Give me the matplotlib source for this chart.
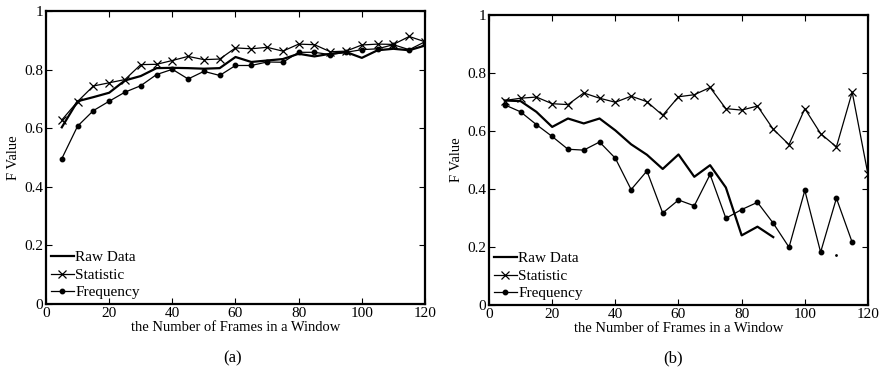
import numpy as np
import matplotlib
matplotlib.use("Agg")
import matplotlib.pyplot as plt

# window sizes (frames)
frames = [5, 10, 15, 20, 25, 30, 35, 40, 45, 50, 55, 60,
          65, 70, 75, 80, 85, 90, 95, 100, 105, 110, 115, 120]

# panel (a)
raw_a = [0.603, 0.692, 0.706, 0.721, 0.763, 0.778, 0.805, 0.806, 0.805, 0.803, 0.805, 0.843,
         0.826, 0.831, 0.836, 0.854, 0.845, 0.854, 0.860, 0.840, 0.866, 0.871, 0.866, 0.882]
stat_a = [0.628, 0.691, 0.744, 0.755, 0.766, 0.817, 0.818, 0.831, 0.845, 0.834, 0.836, 0.874,
          0.871, 0.876, 0.863, 0.887, 0.885, 0.861, 0.863, 0.884, 0.887, 0.886, 0.913, 0.895]
freq_a = [0.496, 0.607, 0.660, 0.692, 0.723, 0.745, 0.783, 0.801, 0.768, 0.794, 0.780, 0.814,
          0.814, 0.826, 0.825, 0.859, 0.859, 0.851, 0.859, 0.868, 0.871, 0.885, 0.868, 0.895]

# panel (b)  (raw data has gaps)
nan = np.nan
raw_b = [0.705, 0.703, 0.666, 0.614, 0.643, 0.626, 0.643, 0.602, 0.554, 0.518, 0.469, 0.519,
         0.442, 0.482, 0.405, 0.240, 0.270, 0.234, nan, nan, nan, 0.174, nan, nan]
stat_b = [0.705, 0.713, 0.717, 0.694, 0.691, 0.731, 0.713, 0.699, 0.720, 0.701, 0.654, 0.718,
          0.725, 0.750, 0.677, 0.672, 0.686, 0.606, 0.553, 0.677, 0.591, 0.545, 0.734, 0.450]
freq_b = [0.690, 0.666, 0.622, 0.581, 0.537, 0.534, 0.562, 0.506, 0.398, 0.462, 0.317, 0.362,
          0.342, 0.450, 0.299, 0.329, 0.354, 0.282, 0.199, 0.395, 0.182, 0.368, 0.216, nan]

xticks = [0, 20, 40, 60, 80, 100, 120]
yticks = [0, 0.2, 0.4, 0.6, 0.8, 1]
yticklabels = ['0', '0.2', '0.4', '0.6', '0.8', '1']

plt.rcParams['font.family'] = ['Liberation Serif', 'DejaVu Serif']
plt.rcParams['mathtext.fontset'] = 'stix'

fig = plt.figure(figsize=(8.83, 3.79), dpi=100)
ax_a = fig.add_axes([0.0521, 0.1979, 0.4292, 0.7731])
ax_b = fig.add_axes([0.5538, 0.1953, 0.4292, 0.7652])


def draw(ax, raw, stat, freq, caption, cap_x):
    ax.plot(frames, raw, color='black', lw=1.6, label='Raw Data',
            marker='.', markersize=2, markevery=[i for i in range(len(raw))
                                                 if not np.isnan(raw[i])
                                                 and (i == 0 or np.isnan(raw[i - 1]))
                                                 and (i == len(raw) - 1 or np.isnan(raw[i + 1]))])
    ax.plot(frames, stat, color='black', lw=0.9, marker='x', markersize=6,
            markeredgewidth=0.9, label='Statistic')
    ax.plot(frames, freq, color='black', lw=0.9, marker='o', markersize=3.2,
            label='Frequency')
    ax.set_xlim(0, 120)
    ax.set_ylim(0, 1)
    ax.set_xticks(xticks)
    ax.set_yticks(yticks)
    ax.set_yticklabels(yticklabels)
    ax.tick_params(direction='in', top=True, right=True, length=4, width=0.8,
                   labelsize=11, pad=2)
    for s in ax.spines.values():
        s.set_linewidth(1.6)
    ax.set_xlabel('the Number of Frames in a Window', fontsize=10.5, labelpad=1)
    ax.set_ylabel('F Value', fontsize=10.5, labelpad=3)
    h, l = ax.get_legend_handles_labels()
    h[0] = plt.Line2D([], [], color='black', lw=1.6)
    ax.legend(h, l, loc='lower left', frameon=False, fontsize=11,
              handlelength=1.5, handletextpad=0.1, labelspacing=0.25,
              borderaxespad=0.1, borderpad=0.2)
    fig.text(cap_x, 0.055, caption, ha='center', va='center', fontsize=12)


draw(ax_a, raw_a, stat_a, freq_a, '(a)', 0.263)
draw(ax_b, raw_b, stat_b, freq_b, '(b)', 0.762)

fig.savefig('out.png', dpi=100)
